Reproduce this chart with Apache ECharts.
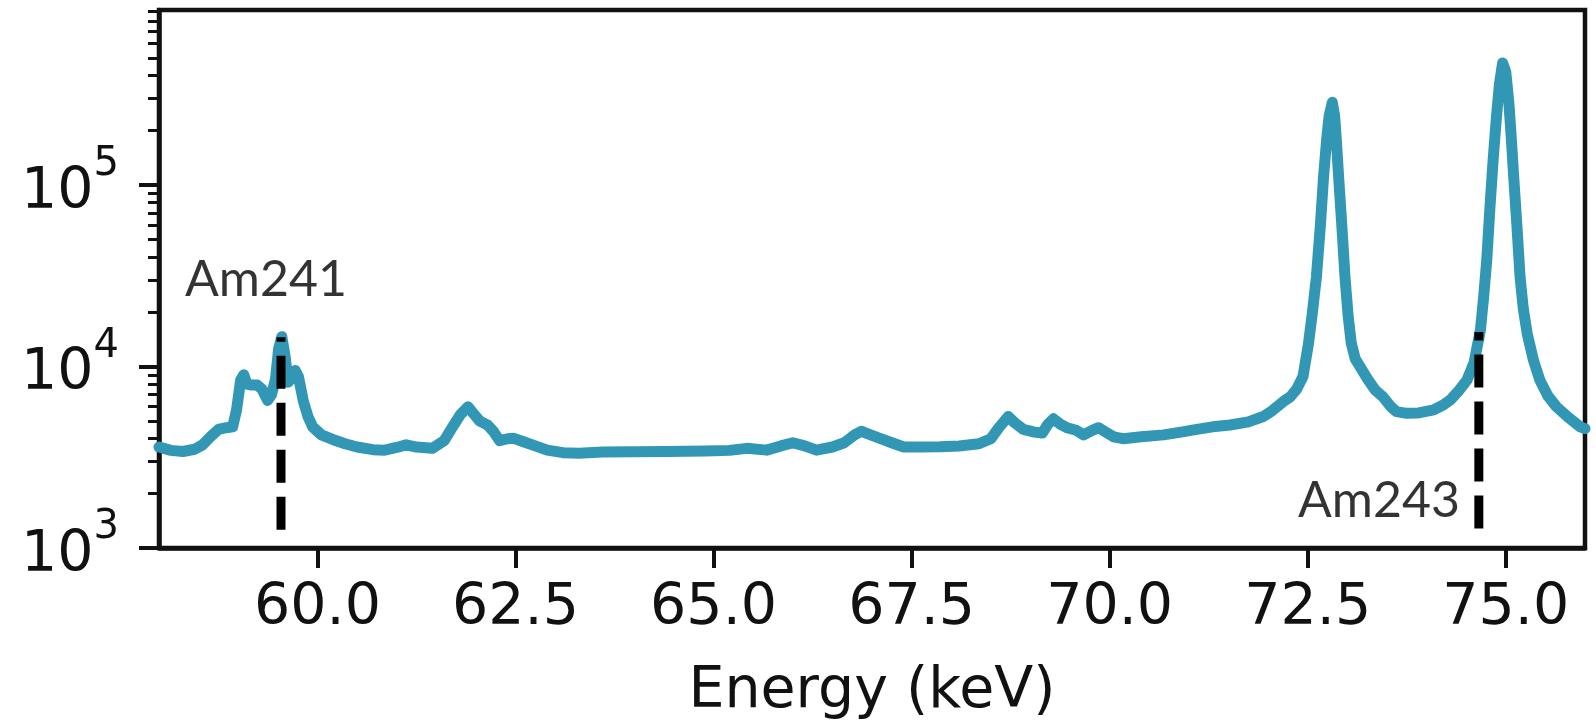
<!doctype html>
<html lang="en">

<head>
    <meta charset="utf-8">
    <title>Am spectrum</title>
    <script src="https://cdn.jsdelivr.net/npm/echarts@6/dist/echarts.min.js"></script>
    <style>
        html, body { margin: 0; padding: 0; background: #fff; }
        #mychart { width: 1596px; height: 724px; }
    </style>
</head>

<body>
    <div id="mychart"></div>

    <script type="text/javascript">
        // spectrum (keV, counts)
        var energy = [
            58.00, 58.15, 58.30, 58.45, 58.55, 58.65, 58.75, 58.85, 58.93, 58.98,
            59.03, 59.07, 59.11, 59.17, 59.24, 59.30, 59.37, 59.42, 59.47, 59.51,
            59.55, 59.59, 59.63, 59.67, 59.72, 59.76, 59.82, 59.88, 59.94, 60.05,
            60.20, 60.35, 60.50, 60.70, 60.85, 61.00, 61.12, 61.25, 61.45, 61.60,
            61.70, 61.80, 61.90, 61.97, 62.05, 62.15, 62.22, 62.30, 62.40, 62.48,
            62.60, 62.75, 62.90, 63.10, 63.30, 63.60, 64.00, 64.40, 64.90, 65.20,
            65.42, 65.67, 65.85, 66.00, 66.15, 66.30, 66.50, 66.65, 66.78, 66.87,
            66.95, 67.10, 67.25, 67.40, 67.60, 67.86, 68.10, 68.35, 68.50, 68.60,
            68.72, 68.80, 68.91, 69.05, 69.15, 69.22, 69.29, 69.38, 69.46, 69.58,
            69.67, 69.78, 69.86, 69.95, 70.05, 70.17, 70.40, 70.68, 70.90, 71.10,
            71.30, 71.52, 71.75, 71.94, 72.05, 72.19, 72.28, 72.36, 72.44, 72.51,
            72.56, 72.61, 72.66, 72.70, 72.74, 72.77, 72.81, 72.84, 72.86, 72.89,
            72.93, 72.97, 73.01, 73.05, 73.10, 73.16, 73.25, 73.35, 73.45, 73.55,
            73.62, 73.75, 73.90, 74.09, 74.20, 74.30, 74.40, 74.51, 74.60, 74.68,
            74.72, 74.76, 74.80, 74.84, 74.88, 74.92, 74.96, 75.00, 75.04, 75.07,
            75.10, 75.14, 75.18, 75.22, 75.27, 75.35, 75.43, 75.53, 75.64, 75.80,
            75.94, 76.00
        ];
        var counts = [
            3600, 3450, 3400, 3500, 3700, 4100, 4500, 4600, 4650, 5800,
            8400, 9000, 8000, 7900, 7900, 7500, 6500, 7000, 8500, 12500,
            14600, 11500, 8200, 8600, 9500, 8800, 6500, 5300, 4650, 4200,
            3950, 3750, 3600, 3480, 3460, 3580, 3700, 3600, 3540, 3900,
            4600, 5400, 6000, 5500, 5000, 4750, 4400, 3900, 4000, 4020,
            3850, 3650, 3460, 3350, 3330, 3380, 3390, 3400, 3420, 3450,
            3540, 3460, 3650, 3800, 3650, 3460, 3600, 3800, 4200, 4400,
            4250, 4020, 3800, 3600, 3600, 3610, 3650, 3750, 4000, 4600,
            5300, 4900, 4500, 4350, 4300, 4800, 5150, 4800, 4600, 4450,
            4200, 4450, 4600, 4350, 4100, 4000, 4100, 4200, 4350, 4500,
            4650, 4760, 4950, 5300, 5700, 6400, 6800, 7500, 8800, 13400,
            20000, 31300, 60000, 111000, 180000, 240000, 285000, 240000, 180000, 111000,
            60000, 31300, 19000, 13400, 11000, 9970, 8600, 7430, 6800, 6000,
            5640, 5520, 5550, 5760, 6100, 6540, 7300, 8410, 10500, 15900,
            24000, 38600, 75000, 137000, 230000, 360000, 470000, 420000, 280000, 180000,
            111000, 60000, 31300, 21000, 15200, 10800, 8410, 6900, 6000, 5200,
            4650, 4550
        ];

        // reference lines and their labels
        var refNames = ['Am241', 'Am243'];
        var refEnergy = [59.54, 74.66];
        var refLow = [1260, 1280];
        var refHigh = [14500, 15500];
        var labelEnergy = [59.35, 73.40];
        var labelCounts = [30000, 1815];

        // axes
        var xTicks = [60.0, 62.5, 65.0, 67.5, 70.0, 72.5, 75.0];
        var yTicks = [1000, 10000, 100000];
        var yMinorTicks = [];
        [1000, 10000, 100000].forEach(function (d) {
            for (var k = 2; k <= 9; k++) yMinorTicks.push(k * d);
        });
        var xMin = 58, xMax = 76, yMin = 1000, yMax = 920000;

        var lineColor = '#3197b5';
        var ink = '#111';

        var spectrum = energy.map(function (e, i) { return [e, counts[i]]; });

        var series = [{
            type: 'line',
            data: spectrum,
            showSymbol: false,
            smooth: false,
            sampling: null,
            lineStyle: { color: lineColor, width: 11, join: 'round', cap: 'round' },
            z: 2
        }];

        refEnergy.forEach(function (e, i) {
            series.push({
                type: 'line',
                data: [[e, refLow[i]], [e, refHigh[i]]],
                showSymbol: false,
                lineStyle: { color: '#000', width: 9, type: [33, 14], cap: 'butt' },
                z: 3
            });
        });

        series.push({
            type: 'scatter',
            symbolSize: 0,
            data: refNames.map(function (n, i) { return { name: n, value: [labelEnergy[i], labelCounts[i]] }; }),
            label: {
                show: true,
                position: 'inside',
                formatter: '{b}',
                fontFamily: 'Lato',
                fontSize: 50,
                color: '#000',
                textBorderWidth: 0
            },
            z: 4
        });

        var myChart = echarts.init(document.getElementById('mychart'));
        var option = {
            animation: false,
            grid: {
                left: 159, right: 11, top: 10, bottom: 176,
                show: true, borderColor: ink, borderWidth: 4.5,
                outerBoundsMode: 'none'
            },
            xAxis: {
                type: 'value',
                min: xMin,
                max: xMax,
                name: 'Energy (keV)',
                nameLocation: 'middle',
                nameGap: 116,
                nameTextStyle: { fontFamily: 'DejaVu Sans', fontSize: 57, color: ink },
                axisLine: { show: true, onZero: false, lineStyle: { color: ink, width: 4.5 } },
                axisTick: { show: true, customValues: xTicks, length: 20, lineStyle: { color: ink, width: 4 } },
                axisLabel: {
                    customValues: xTicks,
                    margin: 33,
                    fontFamily: 'DejaVu Sans',
                    fontSize: 57,
                    color: ink,
                    formatter: function (v) { return v.toFixed(1); }
                },
                splitLine: { show: false }
            },
            yAxis: [{
                type: 'log',
                logBase: 10,
                min: yMin,
                max: yMax,
                axisLine: { show: true, lineStyle: { color: ink, width: 4.5 } },
                axisTick: { show: true, customValues: yTicks, length: 20, lineStyle: { color: ink, width: 4 } },
                axisLabel: {
                    customValues: yTicks,
                    margin: 40,
                    formatter: function (v) {
                        return '{b|10}{s|' + Math.round(Math.log10(v)) + '}';
                    },
                    rich: {
                        b: { fontFamily: 'DejaVu Sans', fontSize: 57, color: ink, padding: [16, 0, 0, 0] },
                        s: { fontFamily: 'DejaVu Sans', fontSize: 40, color: ink, padding: [0, 0, 40, 0] }
                    }
                },
                splitLine: { show: false }
            }, {
                // minor ticks only
                type: 'log',
                logBase: 10,
                min: yMin,
                max: yMax,
                position: 'left',
                axisLine: { show: false },
                axisTick: { show: true, customValues: yMinorTicks, length: 11, lineStyle: { color: ink, width: 3 } },
                axisLabel: { show: false },
                splitLine: { show: false }
            }],
            series: series
        };
        myChart.setOption(option);
    </script>

</body>

</html>
